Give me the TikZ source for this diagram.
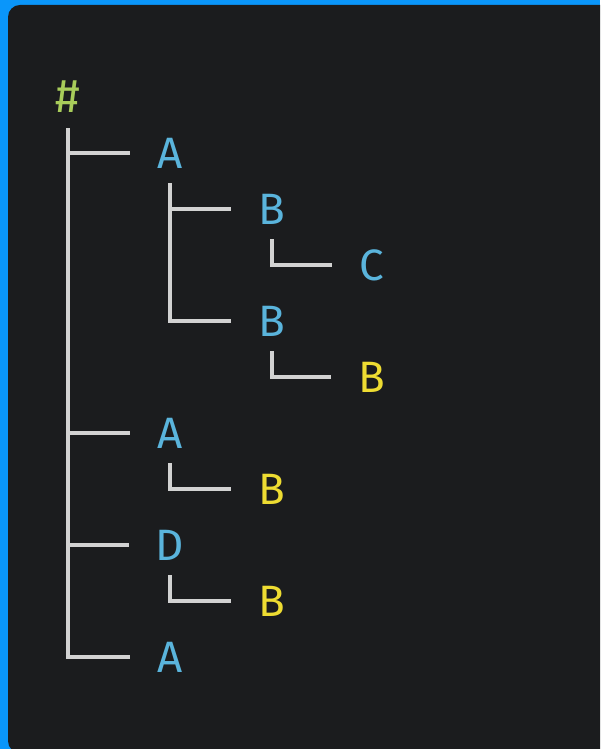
\documentclass[tikz,border=0pt]{standalone}
\usepackage{fontspec}
\setmainfont{Fira Sans}

\definecolor{frameblue}{HTML}{0A96FA}
\definecolor{panelgray}{HTML}{1B1C1E}
\definecolor{branchgray}{HTML}{D2D2D2}
\definecolor{keyblue}{HTML}{5AB4DC}
\definecolor{keyyellow}{HTML}{EEDC32}
\definecolor{rootgreen}{HTML}{A8CC5A}

\begin{document}
\begin{tikzpicture}[x=0.02cm, y=-0.02cm,
  key/.style={inner sep=0pt, font=\fontsize{25}{30}\selectfont, text=keyblue},
  leaf/.style={key, text=keyyellow},
  rootkey/.style={key, text=rootgreen, font=\fontsize{27}{30}\selectfont},
  branch/.style={draw=branchgray, line width=0.07cm, shorten <=0.3cm, shorten >=0.54cm}]
% Frame and dark panel
\useasboundingbox (0,0) rectangle (600,749);
\fill[frameblue] (0,0) rectangle (600,749);
\begin{scope}
\clip (0,0) rectangle (600,749);
\fill[panelgray, rounded corners=0.24cm] (8,5) rectangle (620,753);
\end{scope}

% Tree keys, one row every 56 px
\node[rootkey] (root) at (68, 97) {\#};
\node[key]  (a1)   at (170, 153) {A};
\node[key]  (b11)  at (272, 209) {B};
\node[key]  (c111) at (372, 265) {C};
\node[key]  (b12)  at (272, 321) {B};
\node[leaf] (b121) at (372, 377) {B};
\node[key]  (a2)   at (170, 433) {A};
\node[leaf] (b21)  at (272, 489) {B};
\node[key]  (d3)   at (170, 545) {D};
\node[leaf] (b31)  at (272, 601) {B};
\node[key]  (a4)   at (170, 657) {A};

% Branches
\draw[branch] (root.south) |- (a1.west);
\draw[branch] (root.south) |- (a2.west);
\draw[branch] (root.south) |- (d3.west);
\draw[branch] (root.south) |- (a4.west);
\draw[branch] (a1.south) |- (b11.west);
\draw[branch] (a1.south) |- (b12.west);
\draw[branch] (b11.south) |- (c111.west);
\draw[branch] (b12.south) |- (b121.west);
\draw[branch] (a2.south) |- (b21.west);
\draw[branch] (d3.south) |- (b31.west);
\end{tikzpicture}
\end{document}
